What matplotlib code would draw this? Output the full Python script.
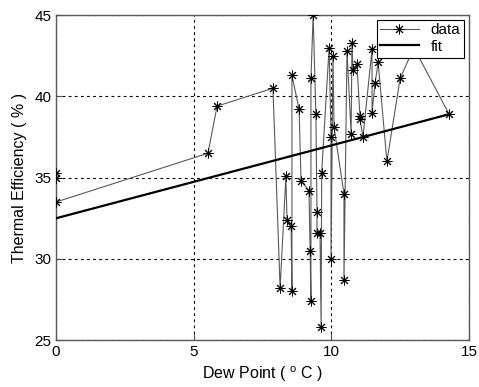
import numpy as np
import matplotlib
matplotlib.use("Agg")
import matplotlib.pyplot as plt

plt.rcParams.update({
    "font.family": ["Liberation Sans", "DejaVu Sans"],
    "mathtext.fontset": "custom",
    "mathtext.rm": "Liberation Sans",
})

# measured points, in recording order
dew_point = [0, 0, 0, 5.52, 5.85, 7.88, 8.14, 8.35, 8.39, 8.54, 8.57, 8.57,
             8.83, 8.90, 9.19, 9.23, 9.26, 9.26, 9.34, 9.44, 9.48, 9.48,
             9.59, 9.63, 9.65, 9.92, 9.99, 9.99, 10.06, 10.10, 10.46, 10.46,
             10.57, 10.72, 10.75, 10.79, 10.93, 11.04, 11.04, 11.15, 11.48,
             11.48, 11.59, 11.70, 12.02, 12.50, 13.0, 14.28]
efficiency = [35.3, 35.0, 33.5, 36.5, 39.4, 40.5, 28.2, 35.1, 32.4, 32.0,
              28.0, 41.3, 39.2, 34.8, 34.2, 30.5, 27.4, 41.1, 45.0, 38.9,
              32.9, 31.6, 31.6, 25.8, 35.3, 43.0, 37.5, 30.0, 42.5, 38.1,
              34.0, 28.7, 42.8, 37.7, 43.3, 41.6, 42.0, 38.8, 38.6, 37.5,
              42.9, 39.0, 40.8, 42.1, 36.0, 41.1, 43.0, 38.9]

# linear fit end points
fit_x = [0, 14.28]
fit_y = [32.5, 38.9]

fig = plt.figure(figsize=(4.79, 3.87), dpi=100)
ax = fig.add_axes([0.117, 0.121, 0.862, 0.840])

ax.plot(dew_point, efficiency, color="0.35", lw=0.8, marker=(8, 2, 0),
        markersize=7, markerfacecolor="k", markeredgecolor="k",
        markeredgewidth=0.7, label="data", zorder=3)
ax.plot(fit_x, fit_y, color="k", lw=1.6, label="fit", zorder=4)

ax.set_xlim(0, 15)
ax.set_ylim(25, 45)
ax.set_xticks([0, 5, 10, 15])
ax.set_yticks([25, 30, 35, 40, 45])
ax.tick_params(direction="in", length=4, labelsize=11, color="0.3")
ax.grid(True, color="k", linestyle=(0, (2.5, 3)), linewidth=0.8)
for s in ax.spines.values():
    s.set_color("0.35")
    s.set_linewidth(1.0)

ax.set_xlabel(r"Dew Point ( $^{\rm o}$ C )", fontsize=11.5, labelpad=4)
ax.set_ylabel("Thermal Efficiency ( % )", fontsize=11.5, labelpad=5)

leg = ax.legend(loc="upper right", fontsize=11, fancybox=False,
                framealpha=1, edgecolor="k", borderaxespad=0.3,
                handlelength=2.5, borderpad=0.25, labelspacing=0.15)
leg.get_frame().set_linewidth(0.8)

fig.savefig("out.png", dpi=100)
